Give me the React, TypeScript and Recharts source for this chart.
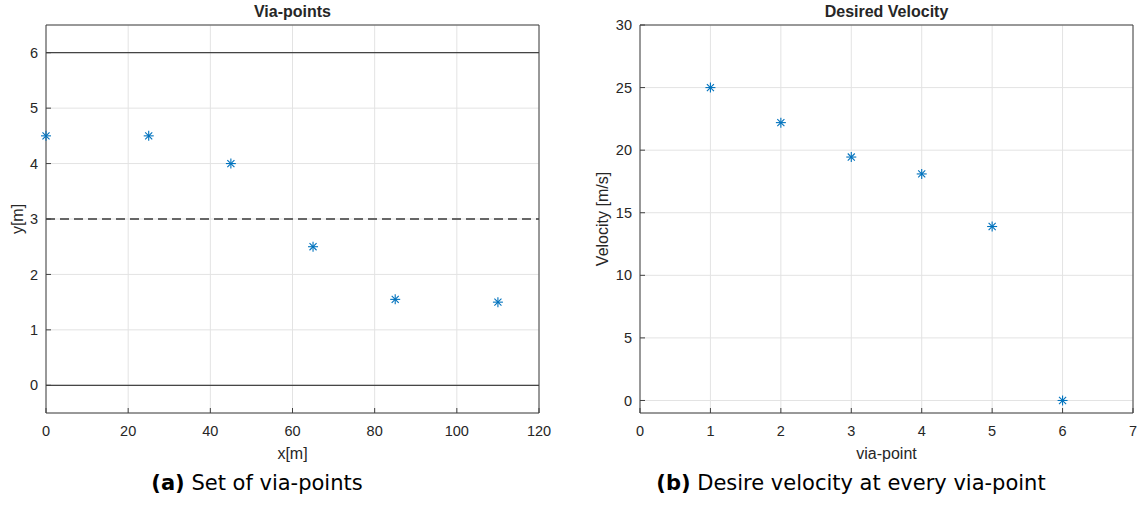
import { ScatterChart, Scatter, XAxis, YAxis, CartesianGrid, ReferenceLine } from 'recharts'

// ── Data ──────────────────────────────────────────────────────────────────────

// via-point positions on the road
const viaX = [0, 25, 45, 65, 85, 110]
const viaY = [4.5, 4.5, 4.0, 2.5, 1.55, 1.5]

// desired velocity at each via-point
const viaIndex = [1, 2, 3, 4, 5, 6]
const velocity = [25, 22.2, 19.45, 18.1, 13.9, 0]

const xTicksA = [0, 20, 40, 60, 80, 100, 120]
const yTicksA = [0, 1, 2, 3, 4, 5, 6]
const xTicksB = [0, 1, 2, 3, 4, 5, 6, 7]
const yTicksB = [0, 5, 10, 15, 20, 25, 30]

// lane borders and centre line
const laneEdges = [0, 6]
const laneCentre = 3

const pointsA = viaX.map((x, i) => ({ x, y: viaY[i] }))
const pointsB = viaIndex.map((x, i) => ({ x, y: velocity[i] }))

// ── Styling helpers ───────────────────────────────────────────────────────────

const AXIS = '#404040'
const TEXT = '#262626'
const GRID = '#e3e3e3'
const BLUE = '#0072BD'

const tickStyle = { fill: TEXT, fontSize: 14.5 }
const labelStyle = { fill: TEXT, fontSize: 16 }

// MATLAB-style '*' marker
function Asterisk(props: any) {
  const { cx, cy } = props
  if (cx == null || cy == null) return null
  const r = 5
  const d = r * 0.7071
  return (
    <g stroke={BLUE} strokeWidth={1.1}>
      <line x1={cx - r} y1={cy} x2={cx + r} y2={cy} />
      <line x1={cx} y1={cy - r} x2={cx} y2={cy + r} />
      <line x1={cx - d} y1={cy - d} x2={cx + d} y2={cy + d} />
      <line x1={cx - d} y1={cy + d} x2={cx + d} y2={cy - d} />
    </g>
  )
}

type PanelProps = {
  width: number
  left: number
  yAxisWidth: number
  title: string
  xLabel: string
  yLabel: string
  yLabelX: number
  xDomain: [number, number]
  yDomain: [number, number]
  xTicks: number[]
  yTicks: number[]
  data: { x: number; y: number }[]
  children?: React.ReactNode
}

function Panel(p: PanelProps) {
  const axisLine = { stroke: AXIS, strokeWidth: 1 }
  const tickLine = { stroke: AXIS, strokeWidth: 1 }
  return (
    <div style={{ position: 'absolute', left: p.left, top: 0, width: p.width, height: 510 }}>
      <div
        style={{
          position: 'absolute',
          left: p.yAxisWidth,
          width: 493,
          top: 3,
          textAlign: 'center',
          fontWeight: 'bold',
          fontSize: 16,
          lineHeight: '18px',
          color: TEXT,
        }}
      >
        {p.title}
      </div>
      <ScatterChart
        width={p.width}
        height={510}
        margin={{ top: 24, right: p.width - p.yAxisWidth - 494, bottom: 70, left: 0 }}
      >
        <CartesianGrid stroke={GRID} />
        <XAxis
          type="number"
          dataKey="x"
          domain={p.xDomain}
          ticks={p.xTicks}
          height={27}
          tickSize={-5}
          tickMargin={18}
          axisLine={axisLine}
          tickLine={tickLine}
          tick={tickStyle}
          label={{ value: p.xLabel, position: 'bottom', offset: 8, ...labelStyle }}
        />
        {/* top edge of the box, inward ticks only */}
        <XAxis
          xAxisId="top"
          orientation="top"
          type="number"
          dataKey="x"
          domain={p.xDomain}
          ticks={p.xTicks}
          height={1}
          tickSize={-5}
          axisLine={axisLine}
          tickLine={tickLine}
          tick={false}
        />
        <YAxis
          type="number"
          dataKey="y"
          domain={p.yDomain}
          ticks={p.yTicks}
          width={p.yAxisWidth}
          tickSize={-5}
          tickMargin={13}
          axisLine={axisLine}
          tickLine={tickLine}
          tick={tickStyle}
          label={{
            value: p.yLabel,
            angle: -90,
            position: 'insideLeft',
            offset: p.yLabelX,
            style: { textAnchor: 'middle' },
            ...labelStyle,
          }}
        />
        {/* right edge of the box */}
        <YAxis
          yAxisId="right"
          orientation="right"
          type="number"
          dataKey="y"
          domain={p.yDomain}
          ticks={p.yTicks}
          width={1}
          tickSize={-5}
          axisLine={axisLine}
          tickLine={tickLine}
          tick={false}
        />
        {p.children}
        <Scatter data={p.data} shape={Asterisk} isAnimationActive={false} />
      </ScatterChart>
    </div>
  )
}

const captionStyle: React.CSSProperties = {
  position: 'absolute',
  top: 471,
  fontFamily: '"DejaVu Sans", sans-serif',
  fontSize: 21,
  lineHeight: '24px',
  color: '#000',
  textAlign: 'center',
  whiteSpace: 'nowrap',
}

export default function App() {
  return (
    <div
      style={{
        position: 'absolute',
        left: 0,
        top: 0,
        width: 1137,
        height: 510,
        background: '#fff',
        fontFamily: '"Liberation Sans", Arial, sans-serif',
      }}
    >
      <Panel
        width={560}
        left={0}
        yAxisWidth={46}
        title="Via-points"
        xLabel="x[m]"
        yLabel="y[m]"
        yLabelX={17}
        xDomain={[0, 120]}
        yDomain={[-0.5, 6.5]}
        xTicks={xTicksA}
        yTicks={yTicksA}
        data={pointsA}
      >
        {laneEdges.map((v) => (
          <ReferenceLine key={v} y={v} stroke="#1a1a1a" strokeWidth={1} />
        ))}
        <ReferenceLine y={laneCentre} stroke="#666" strokeWidth={2} strokeDasharray="9 5" />
      </Panel>

      <Panel
        width={567}
        left={570}
        yAxisWidth={70}
        title="Desired Velocity"
        xLabel="via-point"
        yLabel="Velocity [m/s]"
        yLabelX={32}
        xDomain={[0, 7]}
        yDomain={[-1, 30]}
        xTicks={xTicksB}
        yTicks={yTicksB}
        data={pointsB}
      />

      <div style={{ ...captionStyle, left: 0, width: 514 }}>
        <b>(a)</b> Set of via-points
      </div>
      <div style={{ ...captionStyle, left: 551, width: 600 }}>
        <b>(b)</b> Desire velocity at every via-point
      </div>
    </div>
  )
}
